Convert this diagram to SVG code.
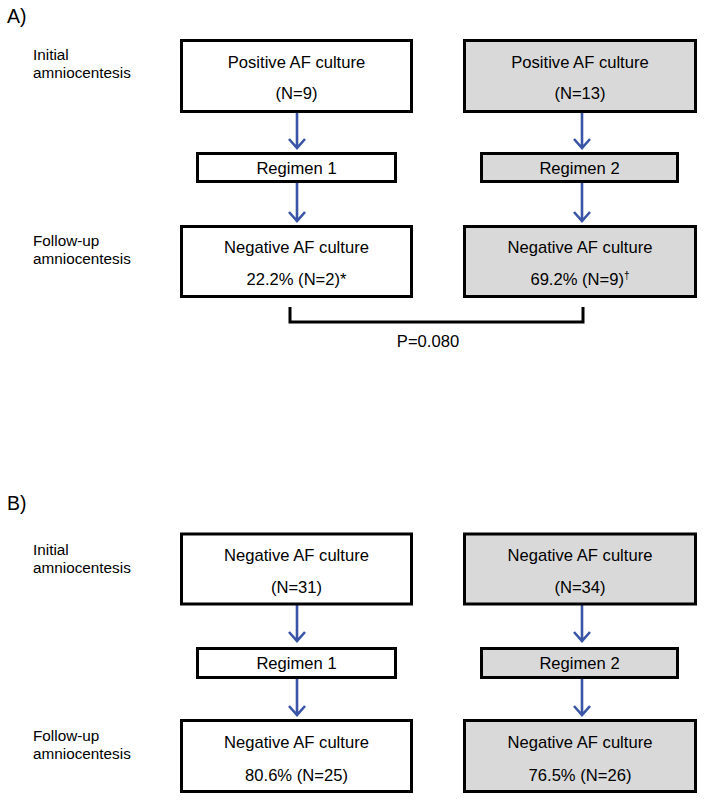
<svg xmlns="http://www.w3.org/2000/svg" width="704" height="802" viewBox="0 0 704 802">
<style>
.bx{fill:#ffffff;stroke:#000;stroke-width:3}
.gy{fill:#d9d9d9;stroke:#000;stroke-width:3}
.t{font-family:"Liberation Sans",Arial,sans-serif;font-size:16.6px;fill:#000;text-anchor:middle}
.lb{font-family:"Liberation Sans",Arial,sans-serif;font-size:15.3px;fill:#000}
.pl{font-family:"Liberation Sans",Arial,sans-serif;font-size:19.5px;fill:#000}
.ar{stroke:#3a55a8;stroke-width:2.6;fill:none}
.br{stroke:#000;stroke-width:3;fill:none}
</style>
<rect width="704" height="802" fill="#fff"/>
<text class="pl" x="7" y="23">A)</text>
<text class="lb" x="33" y="60">Initial</text>
<text class="lb" x="33" y="78">amniocentesis</text>
<text class="lb" x="33" y="246">Follow-up</text>
<text class="lb" x="33" y="264">amniocentesis</text>
<text class="pl" x="7" y="510">B)</text>
<text class="lb" x="33" y="555">Initial</text>
<text class="lb" x="33" y="573">amniocentesis</text>
<text class="lb" x="33" y="741">Follow-up</text>
<text class="lb" x="33" y="759">amniocentesis</text>

<g id="connectors">
<path class="ar" d="M297 113V148M289 139L297 148L305 139"/>
<path class="ar" d="M297 183V221M289 212L297 221L305 212"/>
<path class="ar" d="M582 113V148M574 139L582 148L590 139"/>
<path class="ar" d="M582 183V221M574 212L582 221L590 212"/>
<path class="br" d="M290 307V322H583V307"/>
<path class="ar" d="M297 605V641M289 632L297 641L305 632"/>
<path class="ar" d="M582 605V641M574 632L582 641L590 632"/>
<path class="ar" d="M297 679V715M289 706L297 715L305 706"/>
<path class="ar" d="M582 679V715M574 706L582 715L590 706"/>
</g>
<text class="t" x="428" y="347">P=0.080</text>

<g id="a_init1"><rect class="bx" x="181.5" y="40.5" width="230" height="71"/>
<text class="t" x="296.5" y="68">Positive AF culture</text><text class="t" x="296.5" y="99">(N=9)</text></g>
<g id="a_init2"><rect class="gy" x="464.5" y="40.5" width="231" height="71"/>
<text class="t" x="580" y="68">Positive AF culture</text><text class="t" x="580" y="99">(N=13)</text></g>
<g id="a_reg1"><rect class="bx" x="197.5" y="153.5" width="198" height="28"/>
<text class="t" x="296.5" y="174">Regimen 1</text></g>
<g id="a_reg2"><rect class="gy" x="481.5" y="153.5" width="196" height="28"/>
<text class="t" x="579.5" y="174">Regimen 2</text></g>
<g id="a_fu1"><rect class="bx" x="181.5" y="226.5" width="230" height="70"/>
<text class="t" x="296.5" y="253">Negative AF culture</text><text class="t" x="296.5" y="285">22.2% (N=2)*</text></g>
<g id="a_fu2"><rect class="gy" x="464.5" y="226.5" width="231" height="70"/>
<text class="t" x="580" y="253">Negative AF culture</text><text class="t" x="580" y="285">69.2% (N=9)<tspan font-size="10" dy="-6">†</tspan></text></g>

<g id="b_init1"><rect class="bx" x="181.5" y="534" width="230" height="70"/>
<text class="t" x="296.5" y="561">Negative AF culture</text><text class="t" x="296.5" y="593">(N=31)</text></g>
<g id="b_init2"><rect class="gy" x="464.5" y="534" width="231" height="70"/>
<text class="t" x="580" y="561">Negative AF culture</text><text class="t" x="580" y="593">(N=34)</text></g>
<g id="b_reg1"><rect class="bx" x="197.5" y="648.5" width="198" height="29"/>
<text class="t" x="296.5" y="669">Regimen 1</text></g>
<g id="b_reg2"><rect class="gy" x="481.5" y="648.5" width="196" height="29"/>
<text class="t" x="579.5" y="669">Regimen 2</text></g>
<g id="b_fu1"><rect class="bx" x="181.5" y="720.5" width="230" height="71"/>
<text class="t" x="296.5" y="748">Negative AF culture</text><text class="t" x="296.5" y="781">80.6% (N=25)</text></g>
<g id="b_fu2"><rect class="gy" x="464.5" y="720.5" width="231" height="71"/>
<text class="t" x="580" y="748">Negative AF culture</text><text class="t" x="580" y="781">76.5% (N=26)</text></g>
</svg>
